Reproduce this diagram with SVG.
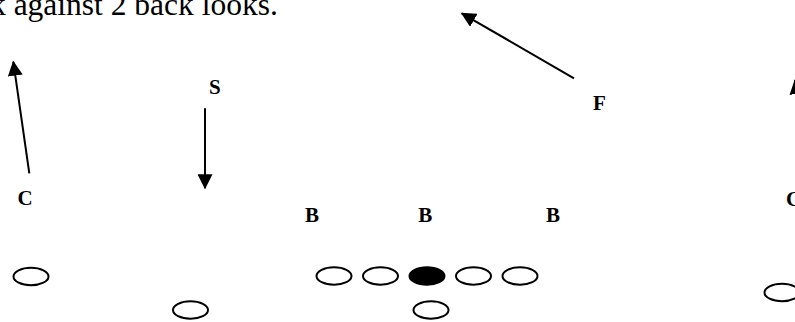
<svg xmlns="http://www.w3.org/2000/svg" width="795" height="322" viewBox="0 0 795 322">
<defs>
<style>
.title{font-family:"Liberation Serif","Times New Roman",serif;font-size:31.5px;fill:#000}
.lbl{font-family:"Liberation Serif","Times New Roman",serif;font-size:21px;font-weight:bold;fill:#000}
.arr{stroke:#000;stroke-width:2;fill:none;marker-end:url(#ah)}
.ov{fill:#fff;stroke:#000;stroke-width:2}
.ovf{fill:#000;stroke:#000;stroke-width:2}
</style>
<marker id="ah" markerUnits="userSpaceOnUse" markerWidth="16" markerHeight="15" refX="14" refY="7.5" orient="auto">
<path d="M0,0 L15,7.5 L0,15 z" fill="#000"/>
</marker>
</defs>
<rect width="795" height="322" fill="#fff"/>
<text class="title" x="-10" y="14.5">k against 2 back looks.</text>
<g id="connectors">
<line class="arr" x1="29.3" y1="173.3" x2="13.3" y2="61.7"/>
<line class="arr" x1="205" y1="108.3" x2="205" y2="188.3"/>
<line class="arr" x1="574" y1="78.3" x2="461.7" y2="13.3"/>
<line class="arr" x1="811" y1="192" x2="795" y2="80"/>
</g>
<g id="C1"><text class="lbl" x="17.5" y="205">C</text></g>
<g id="S"><text class="lbl" x="209" y="94">S</text></g>
<g id="F"><text class="lbl" x="593" y="110">F</text></g>
<g id="B1"><text class="lbl" x="305" y="222.3">B</text></g>
<g id="B2"><text class="lbl" x="418.3" y="222.3">B</text></g>
<g id="B3"><text class="lbl" x="546" y="222.3">B</text></g>
<g id="C2"><text class="lbl" x="786" y="206">C</text></g>
<g id="O1"><ellipse class="ov" cx="31" cy="276.5" rx="17.5" ry="8.8"/></g>
<g id="O2"><ellipse class="ov" cx="190.5" cy="310" rx="17.5" ry="8.8"/></g>
<g id="O3"><ellipse class="ov" cx="334" cy="276" rx="17.5" ry="8.8"/></g>
<g id="O4"><ellipse class="ov" cx="380.5" cy="276" rx="17.5" ry="8.8"/></g>
<g id="O5"><ellipse class="ovf" cx="427" cy="276" rx="17.5" ry="8.8"/></g>
<g id="O6"><ellipse class="ov" cx="473.5" cy="276" rx="17.5" ry="8.8"/></g>
<g id="O7"><ellipse class="ov" cx="520" cy="276" rx="17.5" ry="8.8"/></g>
<g id="O8"><ellipse class="ov" cx="431" cy="310" rx="17.5" ry="8.8"/></g>
<g id="O9"><ellipse class="ov" cx="782" cy="292.5" rx="17.5" ry="8.8"/></g>
</svg>
